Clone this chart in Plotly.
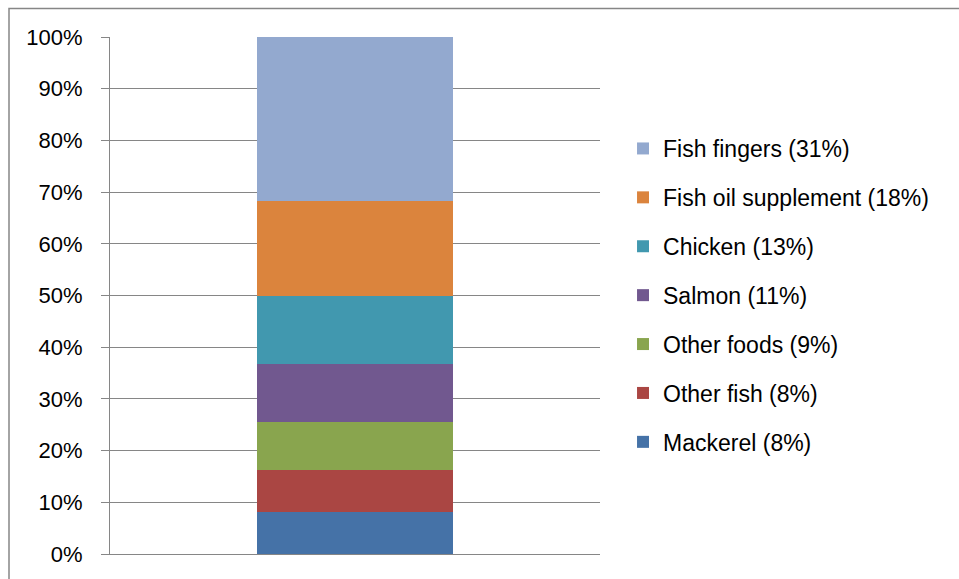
import plotly.graph_objects as go

# Sources of intake, bottom segment first
sources = ["Mackerel", "Other fish", "Other foods", "Salmon", "Chicken",
           "Fish oil supplement", "Fish fingers"]
shares = [8, 8, 9, 11, 13, 18, 31]
colors = ["#4572A7", "#AA4643", "#89A54E", "#71588F", "#4198AF",
          "#DB843D", "#93A9CF"]
y_ticks = list(range(0, 101, 10))
y_tick_labels = [f"{t}%" for t in y_ticks]

fig = go.Figure()
n = len(sources)
for i, (name, val, col) in enumerate(zip(sources, shares, colors)):
    fig.add_trace(go.Bar(
        x=[""], y=[val], name=f"{name} ({val}%)",
        marker=dict(color=col, line=dict(width=0)),
        legendgroup=f"g{i}", legendrank=n - i,
    ))

grid = "#868686"
fig.update_layout(
    width=959, height=579,
    margin=dict(l=110, r=359, t=37, b=25),
    barmode="stack", barnorm="percent", bargap=0.6,
    plot_bgcolor="white", paper_bgcolor="white",
    font=dict(family="Liberation Sans, Arial, sans-serif", size=22, color="#000000"),
    showlegend=True,
    legend=dict(
        x=1.047, xanchor="left", y=0.5, yanchor="middle",
        traceorder="grouped", tracegroupgap=16,
        font=dict(size=23), bgcolor="rgba(0,0,0,0)",
        itemclick=False,
    ),
    xaxis=dict(showticklabels=False, ticks="", showgrid=False,
               showline=True, linecolor=grid, linewidth=1, zeroline=False,
               fixedrange=True),
    yaxis=dict(range=[0, 100], tickvals=y_ticks, ticktext=y_tick_labels,
               showgrid=True, gridcolor=grid, gridwidth=1,
               showline=True, linecolor=grid, linewidth=1, zeroline=False,
               ticks="outside", ticklen=8, tickcolor=grid, tickwidth=1,
               ticklabelstandoff=14, fixedrange=True),
)

# Chart frame (its right and bottom edges run past the page)
fig.add_shape(type="rect", xref="paper", yref="paper",
              x0=(9 - 110) / 490, x1=(965 - 110) / 490,
              y0=(554 - 585) / 517, y1=(554 - 8.5) / 517,
              line=dict(color=grid, width=1.5), fillcolor="rgba(0,0,0,0)",
              layer="below")

fig.write_html("out.html")
